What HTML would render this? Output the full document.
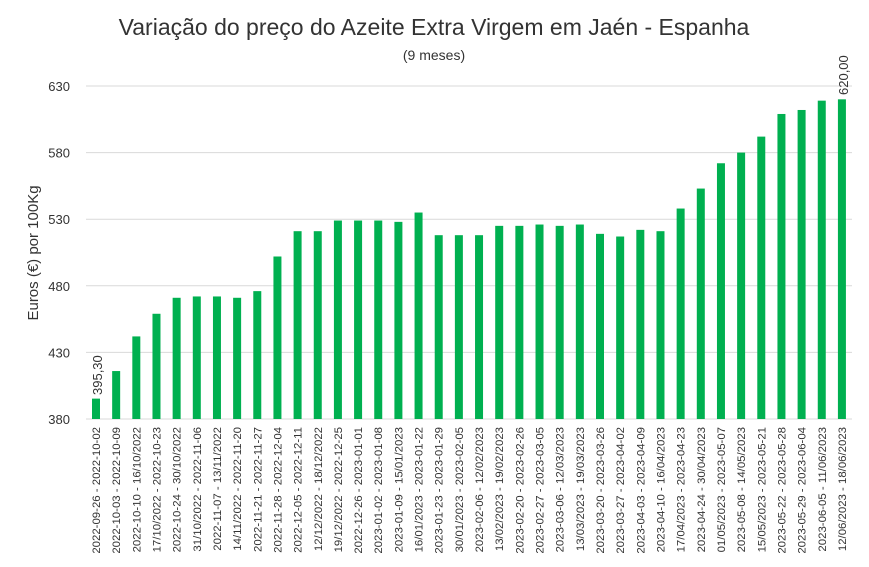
<!DOCTYPE html>
<html><head><meta charset="utf-8"><style>body{margin:0;background:#fff}svg{display:block}text{font-family:"Liberation Sans",sans-serif;fill:#333}</style></head>
<body>
<svg id="s" width="869" height="567" xmlns="http://www.w3.org/2000/svg">
<text x="434" y="35" font-size="23" text-anchor="middle">Variação do preço do Azeite Extra Virgem em Jaén - Espanha</text>
<text x="434" y="60" font-size="14" text-anchor="middle">(9 meses)</text>
<text transform="translate(38,253) rotate(-90)" font-size="15" text-anchor="middle">Euros (€) por 100Kg</text>
<g id="g"></g>
</svg>
<script>
var v=[395.3,416,442,459,471,472,472,471,476,502,521,521,529,529,529,528,535,518,518,518,525,525,526,525,526,519,517,522,521,538,553,572,580,592,609,612,619,620];
var L=["2022-09-26 - 2022-10-02","2022-10-03 - 2022-10-09","2022-10-10 - 16/10/2022","17/10/2022 - 2022-10-23","2022-10-24 - 30/10/2022","31/10/2022 - 2022-11-06","2022-11-07 - 13/11/2022","14/11/2022 - 2022-11-20","2022-11-21 - 2022-11-27","2022-11-28 - 2022-12-04","2022-12-05 - 2022-12-11","12/12/2022 - 18/12/2022","19/12/2022 - 2022-12-25","2022-12-26 - 2023-01-01","2023-01-02 - 2023-01-08","2023-01-09 - 15/01/2023","16/01/2023 - 2023-01-22","2023-01-23 - 2023-01-29","30/01/2023 - 2023-02-05","2023-02-06 - 12/02/2023","13/02/2023 - 19/02/2023","2023-02-20 - 2023-02-26","2023-02-27 - 2023-03-05","2023-03-06 - 12/03/2023","13/03/2023 - 19/03/2023","2023-03-20 - 2023-03-26","2023-03-27 - 2023-04-02","2023-04-03 - 2023-04-09","2023-04-10 - 16/04/2023","17/04/2023 - 2023-04-23","2023-04-24 - 30/04/2023","01/05/2023 - 2023-05-07","2023-05-08 - 14/05/2023","15/05/2023 - 2023-05-21","2023-05-22 - 2023-05-28","2023-05-29 - 2023-06-04","2023-06-05 - 11/06/2023","12/06/2023 - 18/06/2023"];
var h='',Y=function(x){return 419-(x-380)*1.332};
for(var t=380;t<=630;t+=50){var y=Y(t);h+='<line x1="86" x2="852" y1="'+y+'" y2="'+y+'" stroke="#d9d9d9"/><text x="70" y="'+(y+5)+'" font-size="13" text-anchor="end">'+t+'</text>';}
for(var i=0;i<38;i++){var cx=96+i*20.16,y=Y(v[i]);h+='<rect x="'+(cx-4)+'" y="'+y+'" width="8" height="'+(419-y)+'" fill="#00b050"/>';
h+='<text transform="translate('+(cx+4)+',427) rotate(-90)" font-size="11.4" text-anchor="end">'+L[i]+'</text>';}
h+='<text transform="translate(102,395) rotate(-90)" font-size="13">395,30</text>';
h+='<text transform="translate(848,95) rotate(-90)" font-size="13">620,00</text>';
document.getElementById('g').innerHTML=h;
</script>
</body></html>
